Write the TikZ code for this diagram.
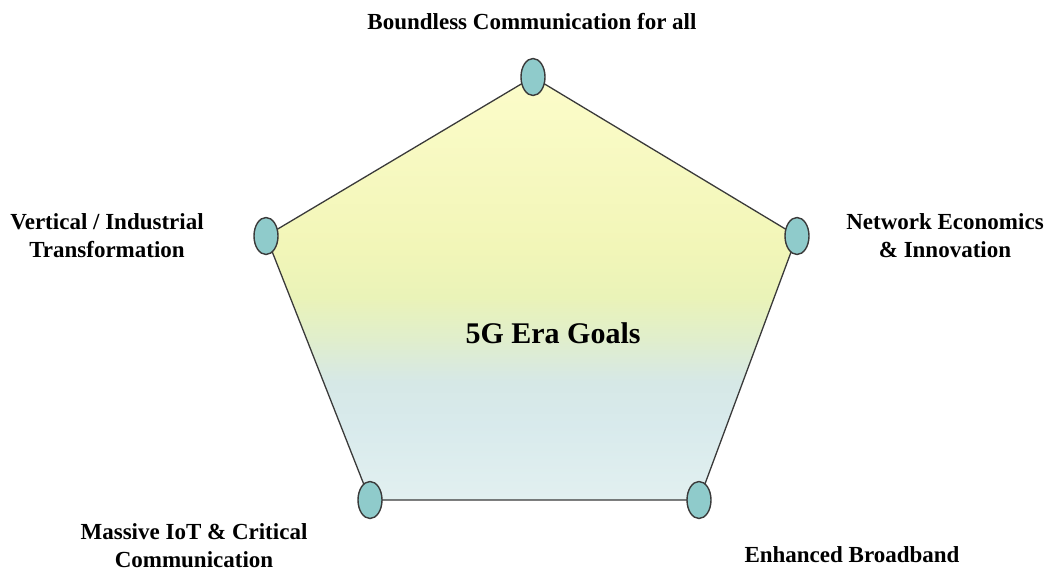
\documentclass[tikz,border=0pt]{standalone}
\usepackage{fontspec}
\setmainfont{Liberation Serif}
\usetikzlibrary{shapes.geometric}
\definecolor{edgegray}{HTML}{3A3A3A}
\definecolor{dotfill}{HTML}{8FCBCB}
\definecolor{shA}{RGB}{226,240,240}
\definecolor{shB}{RGB}{216,234,236}
\definecolor{shC}{RGB}{214,232,230}
\definecolor{shD}{RGB}{224,238,204}
\definecolor{shE}{RGB}{234,243,184}
\definecolor{shF}{RGB}{242,246,184}
\definecolor{shG}{RGB}{252,252,202}
\pgfdeclareverticalshading{goalfill}{100bp}{%
  color(0bp)=(shA);
  color(25bp)=(shA);
  color(34bp)=(shB);
  color(39bp)=(shC);
  color(44bp)=(shD);
  color(49bp)=(shE);
  color(55bp)=(shF);
  color(75bp)=(shG);
  color(100bp)=(shG)}
\tikzset{
  vertexdot/.style={ellipse, draw=edgegray, line width=1.4pt, fill=dotfill,
    minimum width=24pt, minimum height=37pt, inner sep=0pt},
  goallabel/.style={font=\bfseries\fontsize{23}{28}\selectfont, align=center, inner sep=0pt},
  rim/.style={draw=edgegray, line width=1.3pt}
}
\begin{document}
\begin{tikzpicture}[x=1pt,y=-1pt]
  \useasboundingbox (0,0) rectangle (1047,570);
  % pentagon corners
  \coordinate (top) at (533,77);
  \coordinate (rt) at (797,236);
  \coordinate (br) at (699,500);
  \coordinate (bl) at (370,500);
  \coordinate (lt) at (266,236);
  \path[shading=goalfill, rim] (top) -- (rt) -- (br) -- (bl) -- (lt) -- cycle;
  \node[vertexdot] (ntop) at (top) {};
  \node[vertexdot] (nrt) at (rt) {};
  \node[vertexdot] (nbr) at (br) {};
  \node[vertexdot] (nbl) at (bl) {};
  \node[vertexdot] (nlt) at (lt) {};
  \node[font=\bfseries\fontsize{30}{34}\selectfont, inner sep=0pt] (center) at (553,333) {5G Era Goals};
  \node[goallabel, anchor=base] (ltop) at (532,29) {Boundless Communication for all};
  \node[goallabel, anchor=base] (llt) at (107,257) {Vertical / Industrial\\Transformation};
  \node[goallabel, anchor=base] (lrt) at (945,257) {Network Economics\\\& Innovation};
  \node[goallabel, anchor=base] (lbl) at (194,567) {Massive IoT \& Critical\\Communication};
  \node[goallabel, anchor=base] (lbr) at (852,562) {Enhanced Broadband};
\end{tikzpicture}
\end{document}
